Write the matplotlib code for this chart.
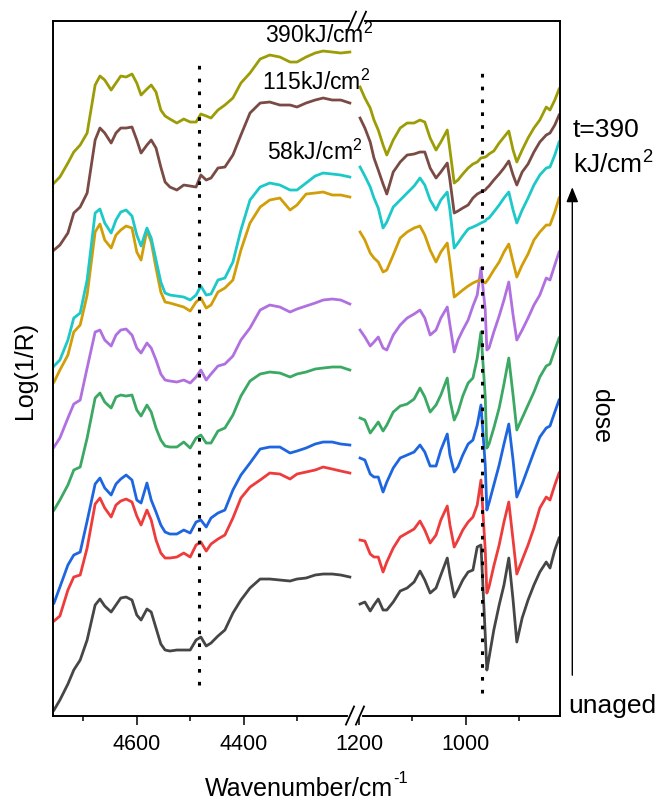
import numpy as np
import matplotlib.pyplot as plt

plt.rcParams['font.family'] = ['Liberation Sans', 'DejaVu Sans']
plt.rcParams['axes.unicode_minus'] = False

# wavenumber grids (cm-1) for the two halves of the broken axis
wn_high = [4755, 4744, 4729, 4718, 4706, 4693, 4678, 4669, 4660, 4648, 4639, 4630, 4620, 4609, 4600,
           4592, 4581, 4573, 4564, 4555, 4547, 4538, 4525, 4512, 4500, 4489, 4480, 4470, 4461, 4448,
           4435, 4420, 4405, 4388, 4369, 4351, 4332, 4313, 4300, 4283, 4266, 4251, 4234, 4218, 4201]
wn_low = [1198, 1189, 1179, 1172, 1164, 1155, 1148, 1136, 1123, 1110, 1097, 1086, 1077, 1067, 1056,
          1047, 1035, 1030, 1022, 1015, 1006, 996, 987, 979, 972, 964, 961, 957, 948, 938, 929, 920,
          912, 905, 895, 884, 873, 862, 850, 843, 834, 826]

# Log(1/R), stacked with offsets, from unaged (bottom) to 390 kJ/cm2 (top)
gray_hi = [0.05, 0.15, 0.31, 0.45, 0.55, 0.75, 1.10, 1.16, 1.09, 1.03, 1.10, 1.17, 1.18, 1.15, 1.00,
           0.95, 1.06, 1.03, 0.87, 0.71, 0.65, 0.64, 0.65, 0.65, 0.65, 0.75, 0.78, 0.69, 0.72, 0.79,
           0.85, 1.02, 1.15, 1.27, 1.36, 1.36, 1.35, 1.34, 1.36, 1.37, 1.40, 1.41, 1.41, 1.40, 1.38]
red_hi = [0.94, 0.99, 1.25, 1.38, 1.40, 1.67, 2.11, 2.17, 2.07, 1.98, 2.10, 2.14, 2.16, 2.13, 1.99,
          1.90, 2.05, 1.95, 1.75, 1.62, 1.57, 1.57, 1.58, 1.62, 1.58, 1.70, 1.73, 1.64, 1.71, 1.76,
          1.80, 1.97, 2.17, 2.28, 2.35, 2.42, 2.41, 2.36, 2.41, 2.43, 2.45, 2.48, 2.46, 2.44, 2.42]
blue_hi = [1.12, 1.28, 1.50, 1.60, 1.63, 1.94, 2.31, 2.37, 2.27, 2.20, 2.31, 2.36, 2.40, 2.35, 2.15,
           2.12, 2.32, 2.15, 2.03, 1.90, 1.83, 1.81, 1.81, 1.85, 1.82, 1.93, 1.95, 1.88, 1.97, 2.02,
           2.05, 2.25, 2.40, 2.52, 2.66, 2.68, 2.68, 2.62, 2.64, 2.67, 2.71, 2.73, 2.73, 2.71, 2.70]
green_hi = [2.05, 2.15, 2.30, 2.45, 2.48, 2.77, 3.17, 3.22, 3.13, 3.07, 3.18, 3.20, 3.19, 3.20, 3.05,
            2.99, 3.10, 3.03, 2.87, 2.75, 2.69, 2.68, 2.68, 2.73, 2.67, 2.77, 2.80, 2.72, 2.72, 2.84,
            2.87, 3.00, 3.19, 3.34, 3.41, 3.43, 3.42, 3.38, 3.41, 3.43, 3.46, 3.47, 3.48, 3.48, 3.45]
purple_hi = [2.68, 2.77, 2.97, 3.11, 3.15, 3.47, 3.83, 3.85, 3.75, 3.69, 3.80, 3.85, 3.86, 3.80, 3.67,
             3.62, 3.72, 3.67, 3.55, 3.41, 3.35, 3.34, 3.33, 3.35, 3.32, 3.38, 3.45, 3.35, 3.41, 3.49,
             3.51, 3.59, 3.75, 3.87, 4.05, 4.10, 4.08, 4.03, 4.06, 4.09, 4.12, 4.15, 4.16, 4.15, 4.11]
gold_hi = [3.33, 3.45, 3.60, 3.83, 3.90, 4.20, 4.83, 4.91, 4.75, 4.67, 4.80, 4.85, 4.89, 4.87, 4.63,
           4.55, 4.85, 4.73, 4.47, 4.23, 4.13, 4.12, 4.10, 4.08, 4.04, 4.13, 4.17, 4.07, 4.10, 4.23,
           4.27, 4.35, 4.65, 4.92, 5.08, 5.15, 5.17, 5.05, 5.10, 5.21, 5.22, 5.23, 5.20, 5.20, 5.18]
cyan_hi = [3.49, 3.55, 3.75, 3.97, 4.02, 4.35, 5.02, 5.06, 4.92, 4.82, 4.95, 5.03, 5.05, 4.99, 4.80,
           4.69, 4.87, 4.77, 4.55, 4.33, 4.22, 4.20, 4.19, 4.18, 4.15, 4.20, 4.29, 4.20, 4.21, 4.35,
           4.37, 4.53, 4.85, 5.15, 5.28, 5.32, 5.30, 5.25, 5.25, 5.32, 5.39, 5.42, 5.41, 5.40, 5.38]
brown_hi = [4.65, 4.70, 4.82, 5.02, 5.08, 5.22, 5.75, 5.87, 5.82, 5.72, 5.82, 5.87, 5.87, 5.88, 5.75,
            5.62, 5.70, 5.75, 5.67, 5.48, 5.33, 5.28, 5.25, 5.30, 5.29, 5.28, 5.40, 5.35, 5.37, 5.47,
            5.48, 5.60, 5.80, 6.02, 6.12, 6.13, 6.10, 6.10, 6.08, 6.12, 6.15, 6.17, 6.15, 6.15, 6.12]
olive_hi = [5.32, 5.38, 5.52, 5.63, 5.70, 5.82, 6.30, 6.39, 6.35, 6.25, 6.32, 6.39, 6.38, 6.41, 6.32,
            6.20, 6.26, 6.30, 6.23, 6.05, 5.99, 5.96, 5.92, 5.96, 5.93, 5.93, 6.01, 5.99, 5.97, 6.05,
            6.10, 6.17, 6.32, 6.42, 6.56, 6.60, 6.58, 6.53, 6.53, 6.58, 6.62, 6.64, 6.63, 6.62, 6.63]

gray_lo = [1.11, 1.13, 1.04, 1.10, 1.16, 1.05, 1.05, 1.13, 1.24, 1.27, 1.33, 1.44, 1.35, 1.22, 1.27,
           1.40, 1.57, 1.40, 1.18, 1.25, 1.35, 1.43, 1.45, 1.68, 1.70, 0.80, 0.45, 0.57, 0.85, 1.10,
           1.30, 1.57, 1.15, 0.73, 0.97, 1.15, 1.30, 1.43, 1.53, 1.47, 1.65, 1.77]
red_lo = [1.75, 1.74, 1.61, 1.58, 1.58, 1.43, 1.53, 1.67, 1.78, 1.82, 1.86, 1.94, 1.85, 1.72, 1.80,
          1.95, 2.09, 1.90, 1.68, 1.75, 1.85, 1.93, 1.98, 2.10, 2.35, 1.65, 1.22, 1.28, 1.49, 1.70,
          1.93, 2.13, 1.75, 1.41, 1.55, 1.70, 1.87, 2.07, 2.18, 2.15, 2.30, 2.42]
blue_lo = [2.57, 2.55, 2.41, 2.38, 2.38, 2.23, 2.33, 2.47, 2.57, 2.60, 2.63, 2.70, 2.63, 2.49, 2.49,
           2.65, 2.81, 2.60, 2.43, 2.48, 2.60, 2.71, 2.75, 2.90, 3.10, 2.50, 2.05, 2.12, 2.30, 2.50,
           2.71, 2.91, 2.55, 2.18, 2.31, 2.47, 2.63, 2.78, 2.87, 2.89, 3.03, 3.15]
green_lo = [2.97, 2.95, 2.82, 2.87, 2.93, 2.84, 2.90, 3.03, 3.09, 3.11, 3.16, 3.27, 3.18, 3.03, 3.10,
            3.20, 3.37, 3.15, 2.95, 3.03, 3.19, 3.32, 3.37, 3.57, 3.83, 3.18, 2.67, 2.71, 2.87, 3.07,
            3.31, 3.57, 3.20, 2.85, 2.97, 3.10, 3.23, 3.38, 3.49, 3.51, 3.65, 3.77]
purple_lo = [3.85, 3.78, 3.69, 3.73, 3.78, 3.67, 3.65, 3.80, 3.90, 3.97, 4.01, 4.05, 3.97, 3.80, 3.85,
             3.97, 4.08, 3.90, 3.63, 3.75, 3.85, 3.95, 4.09, 4.20, 4.47, 4.05, 3.65, 3.67, 3.83, 3.99,
             4.15, 4.33, 4.00, 3.75, 3.85, 3.97, 4.10, 4.20, 4.37, 4.35, 4.50, 4.63]
gold_lo = [4.83, 4.75, 4.62, 4.57, 4.53, 4.43, 4.45, 4.60, 4.77, 4.83, 4.87, 4.89, 4.80, 4.65, 4.53,
           4.63, 4.72, 4.53, 4.18, 4.21, 4.25, 4.29, 4.32, 4.34, 4.35, 4.32, 4.34, 4.37, 4.45, 4.53,
           4.63, 4.71, 4.53, 4.38, 4.50, 4.61, 4.75, 4.83, 4.90, 4.90, 5.03, 5.17]
cyan_lo = [5.48, 5.39, 5.28, 5.17, 5.07, 4.87, 4.93, 5.08, 5.15, 5.22, 5.29, 5.37, 5.30, 5.15, 5.05,
           5.15, 5.23, 5.05, 4.67, 4.72, 4.79, 4.86, 4.88, 4.90, 4.92, 4.94, 4.96, 4.97, 5.03, 5.10,
           5.17, 5.23, 5.05, 4.92, 5.05, 5.17, 5.30, 5.40, 5.47, 5.48, 5.60, 5.73]
brown_lo = [5.97, 5.87, 5.73, 5.57, 5.45, 5.31, 5.21, 5.43, 5.53, 5.60, 5.61, 5.63, 5.63, 5.47, 5.37,
            5.43, 5.52, 5.35, 5.02, 5.04, 5.07, 5.10, 5.17, 5.21, 5.23, 5.25, 5.27, 5.29, 5.35, 5.41,
            5.47, 5.54, 5.40, 5.30, 5.43, 5.51, 5.63, 5.73, 5.80, 5.82, 5.90, 6.00]
olive_lo = [6.28, 6.17, 6.07, 5.95, 5.85, 5.70, 5.60, 5.75, 5.87, 5.92, 5.92, 5.95, 5.93, 5.77, 5.65,
            5.73, 5.85, 5.65, 5.32, 5.35, 5.41, 5.47, 5.51, 5.53, 5.57, 5.58, 5.59, 5.61, 5.64, 5.72,
            5.78, 5.84, 5.65, 5.53, 5.65, 5.77, 5.87, 5.95, 6.08, 6.05, 6.15, 6.26]

colors = ['#464646', '#EE3B3B', '#1E66E0', '#3BA864', '#B070E0',
          '#D29E08', '#1CC8C8', '#7A4A45', '#9C9C06']
high_sets = [gray_hi, red_hi, blue_hi, green_hi, purple_hi, gold_hi, cyan_hi, brown_hi, olive_hi]
low_sets = [gray_lo, red_lo, blue_lo, green_lo, purple_lo, gold_lo, cyan_lo, brown_lo, olive_lo]

dose_labels = ['58kJ/cm$\\mathregular{^2}$', '115kJ/cm$\\mathregular{^2}$', '390kJ/cm$\\mathregular{^2}$']
label_wn = [4357, 4366, 4360]
label_y = [5.55, 6.25, 6.72]


# broken x axis: map each wavenumber range onto its own stretch of the axis
def pos_high(w):
    return 83.3 + (4600 - np.asarray(w, dtype=float)) * 0.534


def pos_low(w):
    return 305.5 + (1200 - np.asarray(w, dtype=float)) * 0.535


fig = plt.figure(figsize=(6.62, 8), dpi=100)
ax = fig.add_axes([0.0808, 0.1056, 0.7651, 0.8685])

for hi, lo, c in zip(high_sets, low_sets, colors):
    ax.plot(pos_high(wn_high), hi, color=c, lw=2)
    ax.plot(pos_low(wn_low), lo, color=c, lw=2)

# dotted guide lines
ax.plot(pos_high([4483, 4483]), [0.30, 6.57], color='k', lw=2.2, ls=(0, (1.2, 3.0)))
ax.plot(pos_low([971, 971]), [0.22, 6.48], color='k', lw=2.2, ls=(0, (1.2, 3.0)))

for txt, w, y in zip(dose_labels, label_wn, label_y):
    ax.text(pos_high(w), y, txt, fontsize=16.5, ha='left', va='baseline')

ax.set_xlim(0, 506.5)
ax.set_ylim(-0.005, 6.943)
ax.set_xticks(list(pos_high([4600, 4400])) + list(pos_low([1200, 1000])))
ax.set_xticklabels(['4600', '4400', '1200', '1000'])
ax.set_xticks(list(pos_high([4700, 4500, 4300])) + list(pos_low([1100, 900])), minor=True)
ax.set_yticks([])
ax.tick_params(axis='x', which='major', direction='out', length=6.5, width=1.1, labelsize=15.5, pad=7)
ax.tick_params(axis='x', which='minor', direction='out', length=3.5, width=1.1)
for s in ax.spines.values():
    s.set_linewidth(1.4)

# break marks on top and bottom spines
for yc, xc in ((0.0, 0.5854), (1.0, 0.5893)):
    ax.plot([xc, xc + 0.0197], [yc, yc], color='white', lw=3, transform=ax.transAxes,
            clip_on=False, zorder=5)
    for dx in (0.0, 0.0197):
        ax.plot([xc - 0.008 + dx, xc + 0.008 + dx], [yc - 0.013, yc + 0.013], color='k', lw=1.3,
                transform=ax.transAxes, clip_on=False, zorder=6)

fig.text(0.038, 0.5375, 'Log(1/R)', rotation=90, fontsize=18, ha='center', va='center')
xlab = fig.text(0.452, 0.005, 'Wavenumber/cm', fontsize=18, ha='center', va='baseline')
ax.annotate('-1', xy=(1.0, 0.62), xycoords=xlab, fontsize=12, ha='left', va='bottom',
            annotation_clip=False)

fig.text(0.8656, 0.829, 't=390', fontsize=19, ha='left', va='baseline')
fig.text(0.8656, 0.783, 'kJ/cm$\\mathregular{^2}$', fontsize=19, ha='left', va='baseline')
fig.text(0.9086, 0.48, 'dose', fontsize=18, rotation=-90, ha='center', va='center')
fig.text(0.858, 0.1083, 'unaged', fontsize=19, ha='left', va='baseline')
ax.annotate('', xy=(0.8645, 0.766), xytext=(0.8645, 0.156), xycoords='figure fraction',
            arrowprops=dict(arrowstyle='-|>,head_length=0.5,head_width=0.2', lw=1, color='k',
                            mutation_scale=18, shrinkA=0, shrinkB=0))

fig.savefig('out.png', dpi=100)
